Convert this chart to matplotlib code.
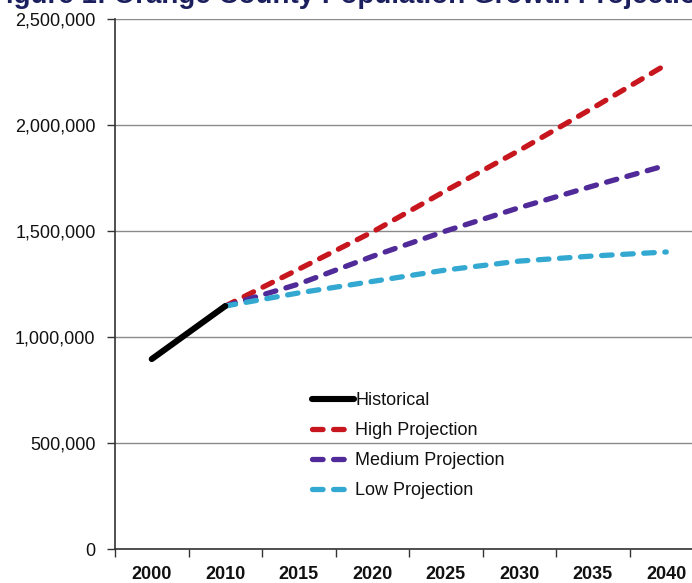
import matplotlib
matplotlib.use("Agg")
import matplotlib.pyplot as plt
from matplotlib.ticker import FuncFormatter, FixedLocator

# Orange County population (historical and projected)
years = ["2000", "2010", "2015", "2020", "2025", "2030", "2035", "2040"]
historical = [896000, 1146000]
high_proj = [1146000, 1320000, 1495000, 1690000, 1880000, 2080000, 2285000]
medium_proj = [1146000, 1250000, 1380000, 1500000, 1610000, 1712000, 1810000]
low_proj = [1146000, 1208000, 1262000, 1316000, 1358000, 1382000, 1401000]

title = "Figure 1: Orange County Population Growth Projections"

W, H = 692, 583
plt.rcParams["font.family"] = ["Liberation Sans", "DejaVu Sans"]

fig = plt.figure(figsize=(W / 100, H / 100), dpi=100)
fig.patch.set_facecolor("white")

# axes spans eight category slots; the last one runs past the right edge
left, right, top, bottom = 115, 703, 19, 549
ax = fig.add_axes([left / W, 1 - bottom / H, (right - left) / W, (bottom - top) / H])

x_hist = list(range(len(historical)))
x_proj = list(range(1, len(years)))

lw = 3.8
ax.plot(x_hist, historical, color="black", lw=lw + 0.6, solid_capstyle="round",
        label="Historical", zorder=5)
style = dict(lw=lw, dash_capstyle="round", dashes=(2.0, 2.0))
ax.plot(x_proj, high_proj, color="#C8161E", label="High Projection", zorder=4, **style)
ax.plot(x_proj, medium_proj, color="#4F2A98", label="Medium Projection", zorder=4, **style)
ax.plot(x_proj, low_proj, color="#33A9D2", label="Low Projection", zorder=4, **style)

ax.set_xlim(-0.5, len(years) - 0.5)
ax.set_ylim(0, 2500000)

ax.yaxis.set_major_locator(FixedLocator([0, 500000, 1000000, 1500000, 2000000, 2500000]))
ax.yaxis.set_major_formatter(FuncFormatter(lambda v, p: f"{int(v):,}"))
ax.grid(axis="y", color="#8a8a8a", lw=1.0)
ax.set_axisbelow(True)

# category boundaries carry the tick marks, labels sit between them
ax.xaxis.set_major_locator(FixedLocator([i - 0.5 for i in range(len(years) + 1)]))
ax.xaxis.set_major_formatter(FuncFormatter(lambda v, p: ""))
ax.set_xticks(range(len(years)), labels=years, minor=True)
ax.tick_params(axis="x", which="major", direction="out", length=6, width=1, color="#333333")
ax.tick_params(axis="x", which="minor", length=0, pad=12, labelsize=13, labelcolor="#111111")
for t in ax.get_xticklabels(minor=True):
    t.set_fontweight("bold")
ax.tick_params(axis="y", direction="out", length=6, width=1, color="#333333",
               pad=8, labelsize=13, labelcolor="#111111")

for s in ("top", "right"):
    ax.spines[s].set_visible(False)
ax.spines["left"].set_color("#333333")
ax.spines["bottom"].set_color("#333333")
ax.spines["left"].set_linewidth(1.2)
ax.spines["bottom"].set_linewidth(1.2)

leg = ax.legend(loc="upper left", bbox_to_anchor=(312 / W, 1 - 392 / H),
                bbox_transform=fig.transFigure, frameon=False, fontsize=13,
                handlelength=2.3, handletextpad=0.1, labelspacing=0.72,
                borderaxespad=0, borderpad=0)
for t in leg.get_texts():
    t.set_color("#111111")

# heading, mostly above the top edge of the canvas
fig.text(-11 / W, 1 - 3 / H, title, fontsize=20, fontweight="bold",
         color="#1B1F5E", va="baseline", ha="left")

fig.savefig("out.png", dpi=100, facecolor="white")
